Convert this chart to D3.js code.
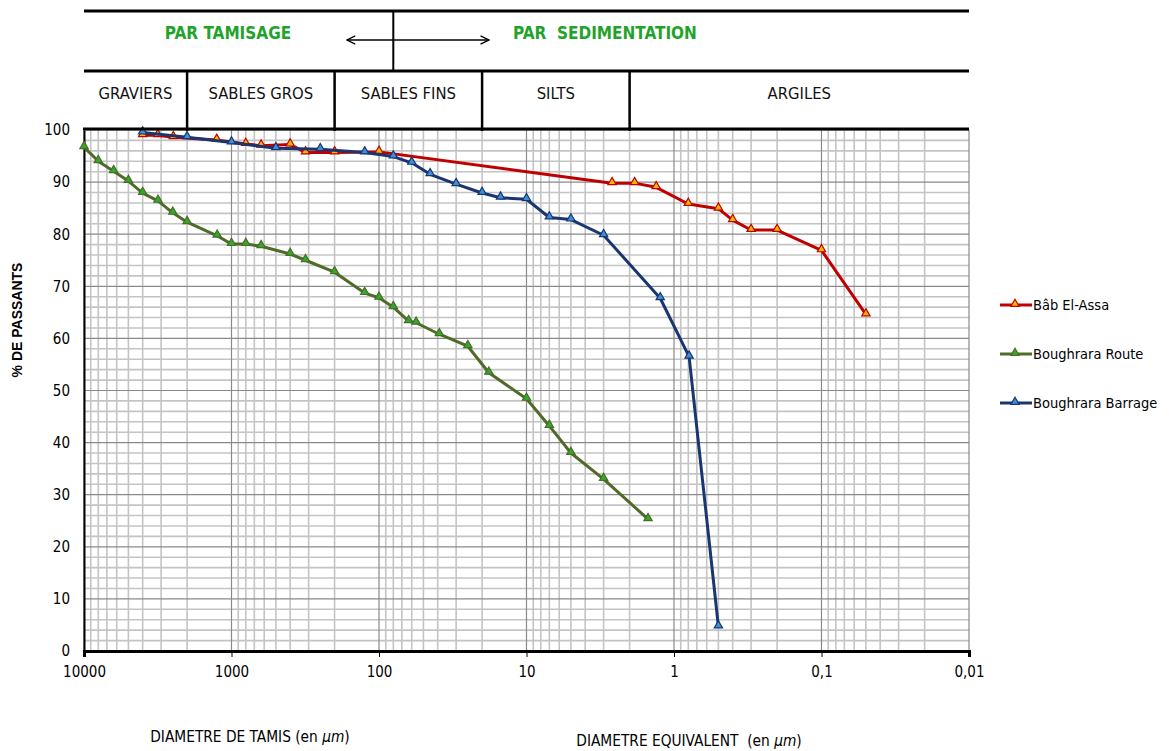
<!DOCTYPE html>
<html>
<head>
<meta charset="utf-8">
<style>
  body { margin: 0; background: #fff; }
  text { font-family: "Liberation Sans Narrow", "DejaVu Sans Condensed", sans-serif; }
</style>
</head>
<body>
<svg width="1169" height="751"></svg>
<script src="https://d3js.org/d3.v7.min.js"></script>
<script>

// diameters in micrometres, % passing
var babDiam = [4000, 3160, 2480, 1260, 800, 630, 400, 315, 200, 100, 2.63, 1.85, 1.32, 0.8, 0.5, 0.4, 0.3, 0.2, 0.1, 0.05];
var babPass = [99.0, 99.0, 98.6, 98.1, 97.3, 97.0, 97.2, 95.7, 95.7, 95.8, 89.8, 89.8, 89.0, 85.8, 84.9, 82.7, 80.8, 80.8, 76.9, 64.6];

var routeDiam = [10000, 8000, 6300, 5000, 4000, 3150, 2500, 2000, 1250, 1000, 800, 630, 400, 315, 200, 125, 100, 80, 63, 56, 39, 25, 18, 10, 7, 5, 3, 1.5];
var routePass = [96.7, 94.0, 92.1, 90.2, 87.9, 86.4, 84.1, 82.3, 79.7, 78.1, 78.1, 77.7, 76.2, 75.0, 72.7, 68.7, 67.8, 66.0, 63.3, 63.0, 60.8, 58.5, 53.4, 48.4, 43.2, 38.0, 33.0, 25.3];

var barrageDiam = [4000, 2000, 1000, 500, 250, 125, 80, 60, 45, 30, 20, 15, 10, 7, 5, 3, 1.24, 0.79, 0.5];
var barragePass = [99.5, 98.6, 97.6, 96.5, 96.3, 95.7, 94.9, 93.7, 91.5, 89.6, 87.9, 87.0, 86.7, 83.2, 82.8, 79.8, 67.7, 56.5, 4.7];

var seriesNames = ["Bâb El-Assa", "Boughrara Route", "Boughrara Barrage"];
var lineColors = ["#c00000", "#4f6b28", "#1a3670"];
var markerFills = ["#f2b800", "#2eaa2e", "#3c8fd8"];

var xTicks = [10000, 1000, 100, 10, 1, 0.1, 0.01];
var xTickLabels = ["10000", "1000", "100", "10", "1", "0,1", "0,01"];
var yTicks = [0, 10, 20, 30, 40, 50, 60, 70, 80, 90, 100];

// soil classes (upper / lower limits in µm)
var classNames = ["GRAVIERS", "SABLES GROS", "SABLES FINS", "SILTS", "ARGILES"];
var classLimits = [10000, 2000, 200, 20, 2, 0.01];
var methodLimit = 80;

var svg = d3.select("svg"),
    margin = {left: 84, right: 200, top: 130, bottom: 100},
    plotRight = 969,
    plotBottom = 651;

var x = d3.scaleLog()
    .domain([10000, 0.01])
    .range([margin.left, plotRight]);

var y = d3.scaleLinear()
    .domain([0, 100])
    .range([plotBottom, margin.top]);

var g = svg.append("g");

// grid: minor vertical lines 2..9 per decade, majors on decades
var gridX = [];
for (var p = -2; p < 4; p++) {
  for (var k = 2; k <= 9; k++) gridX.push(k * Math.pow(10, p));
}
g.selectAll(".gx")
    .data(gridX)
  .enter().append("line")
    .attr("x1", function(d) { return x(d); })
    .attr("x2", function(d) { return x(d); })
    .attr("y1", y(0))
    .attr("y2", y(100))
    .attr("stroke", "#c4c4c4")
    .attr("stroke-width", 1.6);

var gridY = d3.range(2, 100, 2).filter(function(d) { return d % 10 !== 0; });
g.selectAll(".gy")
    .data(gridY)
  .enter().append("line")
    .attr("x1", x(10000))
    .attr("x2", x(0.01))
    .attr("y1", function(d) { return y(d); })
    .attr("y2", function(d) { return y(d); })
    .attr("stroke", "#c4c4c4")
    .attr("stroke-width", 1.6);

g.selectAll(".gxm")
    .data(xTicks)
  .enter().append("line")
    .attr("x1", function(d) { return x(d); })
    .attr("x2", function(d) { return x(d); })
    .attr("y1", y(0))
    .attr("y2", y(100))
    .attr("stroke", "#8a8a8a")
    .attr("stroke-width", 1.2);

g.selectAll(".gym")
    .data(yTicks)
  .enter().append("line")
    .attr("x1", x(10000))
    .attr("x2", x(0.01))
    .attr("y1", function(d) { return y(d); })
    .attr("y2", function(d) { return y(d); })
    .attr("stroke", "#8a8a8a")
    .attr("stroke-width", 1.2);

// axes
var xAxis = g.append("g")
    .attr("transform", "translate(0," + plotBottom + ")")
    .call(d3.axisBottom(x).tickValues(xTicks)
        .tickFormat(function(d, i) { return xTickLabels[i]; })
        .tickSize(6).tickPadding(9));
xAxis.select(".domain").attr("stroke", "#000").attr("stroke-width", 3);
xAxis.selectAll("text").attr("fill", "#000").style("font-size", "15px");

var yAxis = g.append("g")
    .attr("transform", "translate(" + margin.left + ",0)")
    .call(d3.axisLeft(y).tickValues(yTicks).tickSize(0).tickPadding(14));
yAxis.select(".domain").attr("stroke", "#000").attr("stroke-width", 2);
yAxis.selectAll("text").attr("fill", "#000").style("font-size", "15px");

// header table
var hdr = svg.append("g").attr("stroke", "#000").attr("stroke-width", 3);
hdr.append("line").attr("x1", x(10000)).attr("x2", x(0.01)).attr("y1", 11).attr("y2", 11);
hdr.append("line").attr("x1", x(10000)).attr("x2", x(0.01)).attr("y1", 71).attr("y2", 71);
hdr.append("line").attr("x1", x(10000) - 1).attr("x2", x(0.01)).attr("y1", 129).attr("y2", 129);
hdr.append("line").attr("x1", x(methodLimit)).attr("x2", x(methodLimit)).attr("y1", 11).attr("y2", 71).attr("stroke-width", 2);
hdr.selectAll(".cl")
    .data(classLimits.slice(1, -1))
  .enter().append("line")
    .attr("x1", function(d) { return x(d); })
    .attr("x2", function(d) { return x(d); })
    .attr("y1", 71)
    .attr("y2", 131)
    .attr("stroke-width", 2.5);

svg.append("defs").append("marker")
    .attr("id", "ah")
    .attr("viewBox", "0 0 10 10")
    .attr("refX", 9).attr("refY", 5)
    .attr("markerWidth", 8).attr("markerHeight", 8)
    .attr("orient", "auto-start-reverse")
  .append("path")
    .attr("d", "M1,1 L9,5 L1,9")
    .attr("fill", "none")
    .attr("stroke", "#000")
    .attr("stroke-width", 1.3);

svg.append("line")
    .attr("x1", x(165)).attr("x2", x(18))
    .attr("y1", 40).attr("y2", 40)
    .attr("stroke", "#000").attr("stroke-width", 1.3)
    .attr("marker-start", "url(#ah)")
    .attr("marker-end", "url(#ah)");

svg.append("text")
    .attr("x", 228).attr("y", 39)
    .attr("text-anchor", "middle")
    .attr("fill", "#1fa32a")
    .style("font-size", "17px").style("font-weight", "bold")
    .text("PAR  TAMISAGE");
svg.append("text")
    .attr("x", 605).attr("y", 39)
    .attr("text-anchor", "middle")
    .attr("fill", "#1fa32a")
    .style("font-size", "17px").style("font-weight", "bold")
    .style("white-space", "pre")
    .text("PAR  SEDIMENTATION");

svg.selectAll(".cn")
    .data(classNames)
  .enter().append("text")
    .attr("x", function(d, i) { return (x(classLimits[i]) + x(classLimits[i + 1])) / 2; })
    .attr("y", 99)
    .attr("text-anchor", "middle")
    .attr("fill", "#111")
    .style("font-size", "16.5px")
    .text(function(d) { return d; });

// series
var series = [
  {diam: babDiam, pass: babPass},
  {diam: routeDiam, pass: routePass},
  {diam: barrageDiam, pass: barragePass}
];

var line = d3.line()
    .x(function(d) { return x(d[0]); })
    .y(function(d) { return y(d[1]); });

var tri = d3.symbol().type(d3.symbolTriangle).size(30);

series.forEach(function(s, i) {
  var pts = d3.zip(s.diam, s.pass);
  g.append("path")
      .datum(pts)
      .attr("fill", "none")
      .attr("stroke", lineColors[i])
      .attr("stroke-width", 3)
      .attr("stroke-linejoin", "round")
      .attr("d", line);
  g.selectAll(".m" + i)
      .data(pts)
    .enter().append("path")
      .attr("d", tri)
      .attr("transform", function(d) { return "translate(" + x(d[0]) + "," + (y(d[1]) - 1) + ")"; })
      .attr("fill", markerFills[i])
      .attr("stroke", lineColors[i])
      .attr("stroke-width", 1.2);
});

// legend
var legend = svg.append("g");
seriesNames.forEach(function(name, i) {
  var ly = 305 + i * 49;
  legend.append("line")
      .attr("x1", 1000).attr("x2", 1032)
      .attr("y1", ly).attr("y2", ly)
      .attr("stroke", lineColors[i]).attr("stroke-width", 3);
  legend.append("path")
      .attr("d", tri)
      .attr("transform", "translate(1015," + (ly - 1) + ")")
      .attr("fill", markerFills[i])
      .attr("stroke", lineColors[i])
      .attr("stroke-width", 1.2);
  legend.append("text")
      .attr("x", 1033).attr("y", ly + 5)
      .attr("fill", "#000")
      .style("font-size", "14.5px")
      .text(name);
});

// axis titles
svg.append("text")
    .attr("transform", "translate(22,320) rotate(-90)")
    .attr("text-anchor", "middle")
    .attr("fill", "#000")
    .style("font-size", "14px").style("font-weight", "bold")
    .style("font-family", "'Liberation Sans', sans-serif")
    .text("% DE PASSANTS");

var t1 = svg.append("text")
    .attr("x", 250).attr("y", 742)
    .attr("text-anchor", "middle")
    .attr("fill", "#000")
    .style("font-size", "15.3px");
t1.append("tspan").text("DIAMETRE DE TAMIS (en ");
t1.append("tspan").style("font-style", "italic").text("µm");
t1.append("tspan").text(")");

var t2 = svg.append("text")
    .attr("x", 689).attr("y", 746)
    .attr("text-anchor", "middle")
    .attr("fill", "#000")
    .style("font-size", "15.3px")
    .style("white-space", "pre");
t2.append("tspan").text("DIAMETRE EQUIVALENT  (en ");
t2.append("tspan").style("font-style", "italic").text("µm");
t2.append("tspan").text(")");

</script>
</body>
</html>
